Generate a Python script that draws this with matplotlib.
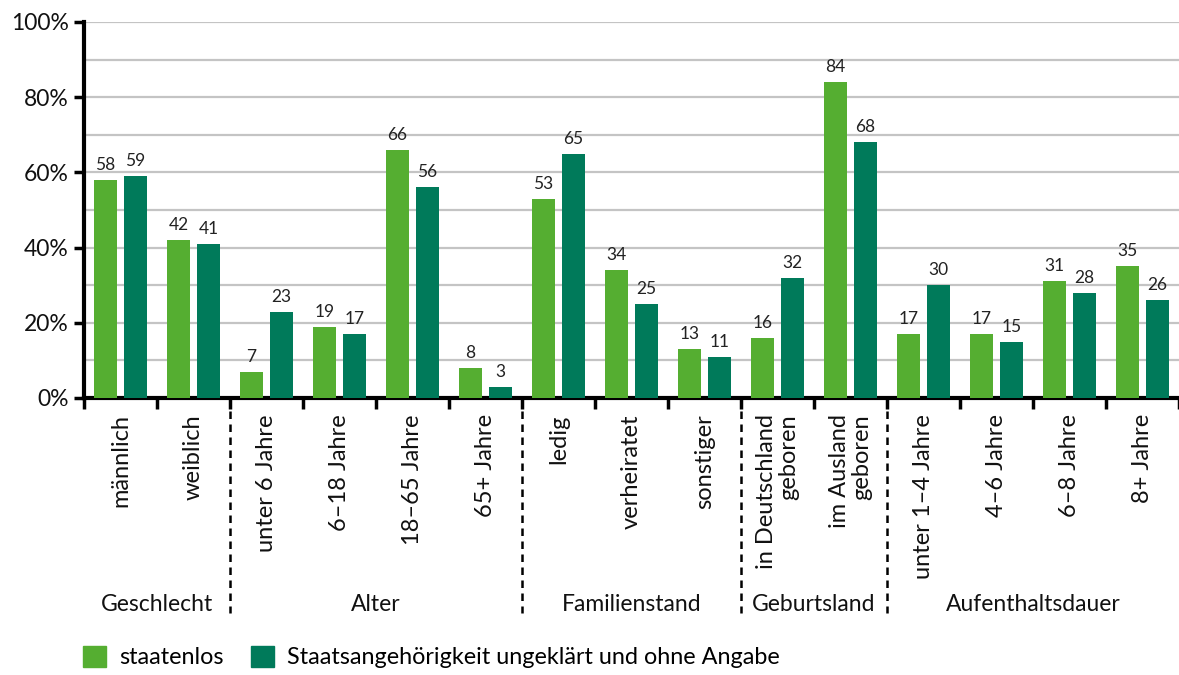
import numpy as np
import matplotlib
matplotlib.use("Agg")
import matplotlib.pyplot as plt
from matplotlib.patches import Patch

plt.rcParams['font.family'] = ['Lato', 'DejaVu Sans']

# data (percent)
categories = ["männlich", "weiblich", "unter 6 Jahre", "6–18 Jahre", "18–65 Jahre", "65+ Jahre",
              "ledig", "verheiratet", "sonstiger", "in Deutschland\ngeboren", "im Ausland\ngeboren",
              "unter 1–4 Jahre", "4–6 Jahre", "6–8 Jahre", "8+ Jahre"]
staatenlos = [58, 42, 7, 19, 66, 8, 53, 34, 13, 16, 84, 17, 17, 31, 35]
ungeklaert = [59, 41, 23, 17, 56, 3, 65, 25, 11, 32, 68, 30, 15, 28, 26]
groups = ["Geschlecht", "Alter", "Familienstand", "Geburtsland", "Aufenthaltsdauer"]
group_sizes = [2, 4, 3, 2, 4]
series_names = ["staatenlos", "Staatsangehörigkeit ungeklärt und ohne Angabe"]

light = "#55ae31"
dark = "#007a5a"

fig = plt.figure(figsize=(11.79, 6.75), dpi=100)
ax = fig.add_axes([84 / 1179, 1 - 398 / 675, 1 - 84 / 1179, 376 / 675])

x = np.arange(len(categories)) + 0.5
w = 0.315
off = 0.205
b1 = ax.bar(x - off, staatenlos, w, color=light, zorder=3)
b2 = ax.bar(x + off, ungeklaert, w, color=dark, zorder=3)

for bars, vals in [(b1, staatenlos), (b2, ungeklaert)]:
    for r, v in zip(bars, vals):
        ax.annotate(str(v), (r.get_x() + r.get_width() / 2, v), xytext=(0, 5),
                    textcoords="offset points", ha="center", va="bottom",
                    fontsize=12.5, color="#222222")

ax.set_xlim(0, len(categories))
ax.set_ylim(0, 100)
ax.set_yticks(np.arange(0, 101, 20))
ax.set_yticklabels([f"{v}%" for v in range(0, 101, 20)], fontsize=16.5, color="#111111")
ax.set_yticks(np.arange(0, 101, 10), minor=True)
ax.yaxis.grid(True, which="both", color="#c4c4c4", linewidth=1.6, zorder=0)
ax.tick_params(axis="y", which="major", length=7, width=2.5, pad=4)
ax.tick_params(axis="y", which="minor", length=0)

ax.set_xticks(np.arange(0, len(categories) + 1))
ax.set_xticklabels([])
ax.tick_params(axis="x", length=8, width=2.5, direction="out")

for s in ["top", "right"]:
    ax.spines[s].set_visible(False)
ax.spines["left"].set_linewidth(3)
ax.spines["bottom"].set_linewidth(3)

trans = ax.get_xaxis_transform()
for xi, lab in zip(x, categories):
    ax.text(xi, -0.043, lab, rotation=90, ha="center", va="top", multialignment="right",
            fontsize=17, transform=trans, color="#111111", linespacing=1.05)

# group labels and dashed separators
bounds = np.cumsum([0] + group_sizes)
for i, g in enumerate(groups):
    ax.text((bounds[i] + bounds[i + 1]) / 2, -0.55, g, ha="center", va="center",
            fontsize=16.5, transform=trans, color="#111111")
for b in bounds[1:-1]:
    ax.plot([b, b], [0, -0.572], transform=trans, color="black", linewidth=1.8,
            linestyle=(0, (3, 2.2)), clip_on=False)

handles = [Patch(color=light), Patch(color=dark)]
fig.legend(handles, series_names, loc="center left", bbox_to_anchor=(0.0705, 1 - 657 / 675),
           ncol=2, frameon=False, fontsize=16.8, handlelength=1.0, handleheight=1.0,
           handletextpad=0.55, columnspacing=1.15, borderpad=0, borderaxespad=0)

fig.savefig("out.png", dpi=100)
